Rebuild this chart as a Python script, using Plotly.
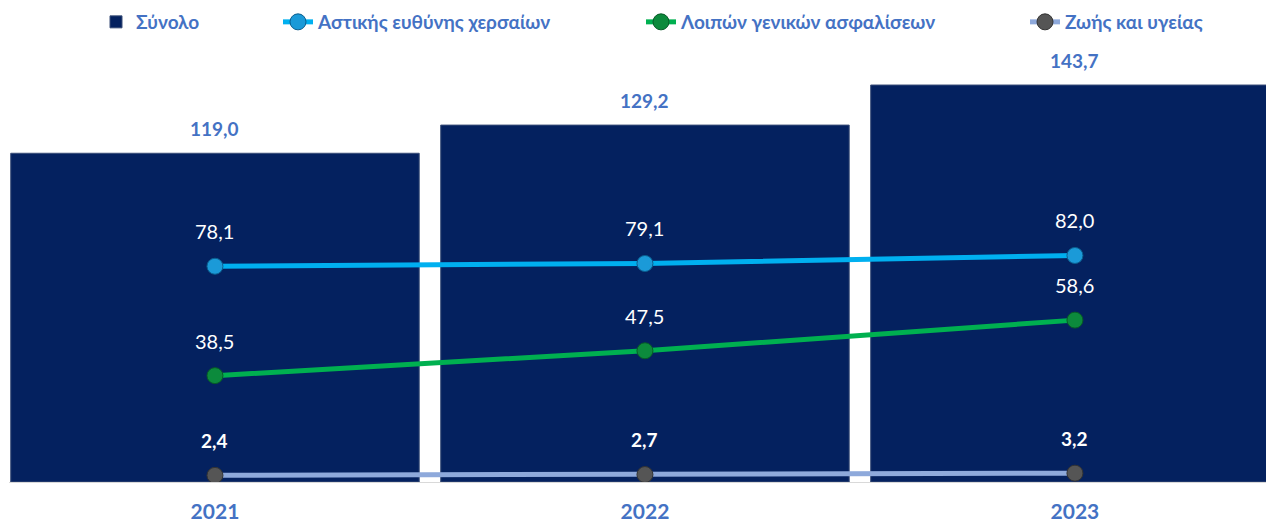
import plotly.graph_objects as go

years = ["2021", "2022", "2023"]
total = [119.0, 129.2, 143.7]
civil_land = [78.1, 79.1, 82.0]
other_general = [38.5, 47.5, 58.6]
life_health = [2.4, 2.7, 3.2]

FONT = "Lato"
LABEL_BLUE = "#4472C4"
W, H = 1266, 514
xs = list(range(len(years)))

def fmt(v):
    return f"{v:.1f}".replace(".", ",")

fig = go.Figure()
fig.add_trace(go.Bar(
    x=xs, y=total, name="Σύνολο", width=0.95, legend="legend",
    marker=dict(color="#04215F", line=dict(color="#3A4E78", width=1)),
    hoverinfo="skip",
))
fig.add_trace(go.Scatter(
    x=xs, y=civil_land, name="Αστικής ευθύνης χερσαίων", mode="lines+markers",
    legend="legend2",
    line=dict(color="#00B0F0", width=5),
    marker=dict(color="#1B9AD8", size=16, line=dict(color="#0B5E8E", width=1)),
    hoverinfo="skip",
))
fig.add_trace(go.Scatter(
    x=xs, y=other_general, name="Λοιπών γενικών ασφαλίσεων", mode="lines+markers",
    legend="legend3",
    line=dict(color="#00B050", width=5),
    marker=dict(color="#0C8A3C", size=16, line=dict(color="#075A27", width=1)),
    hoverinfo="skip",
))
fig.add_trace(go.Scatter(
    x=xs, y=life_health, name="Ζωής και υγείας", mode="lines+markers",
    legend="legend4",
    line=dict(color="#8EA9DB", width=5),
    marker=dict(color="#555555", size=16, line=dict(color="#333333", width=1)),
    hoverinfo="skip",
))

annotations = []
for x, v in zip(xs, total):
    annotations.append(dict(x=x, y=v, text=f"<b>{fmt(v)}</b>", showarrow=False,
                            yshift=25, font=dict(family=FONT, size=19, color=LABEL_BLUE)))
for x, v in zip(xs, civil_land):
    annotations.append(dict(x=x, y=v, text=fmt(v), showarrow=False,
                            yshift=35, font=dict(family=FONT, size=20, color="white")))
for x, v in zip(xs, other_general):
    annotations.append(dict(x=x, y=v, text=fmt(v), showarrow=False,
                            yshift=35, font=dict(family=FONT, size=20, color="white")))
for x, v in zip(xs, life_health):
    annotations.append(dict(x=x, y=v, text=f"<b>{fmt(v)}</b>", showarrow=False,
                            yshift=35, font=dict(family=FONT, size=19, color="white")))

legend_font = dict(family=FONT, size=19, color=LABEL_BLUE, weight="bold")
text_starts = [138, 320, 683, 1067]  # page px where legend text begins
def legend_at(page_x):
    return dict(orientation="h", xref="container", yref="container",
                x=(page_x - 42 - 8) / W, xanchor="left",
                y=1 - 14 / H, yanchor="middle",
                font=legend_font, bgcolor="rgba(0,0,0,0)")

fig.update_layout(
    width=W, height=H,
    margin=dict(l=1, r=6, t=32, b=40, autoexpand=False),
    paper_bgcolor="white", plot_bgcolor="white",
    font=dict(family=FONT),
    showlegend=True,
    legend=legend_at(text_starts[0]),
    legend2=legend_at(text_starts[1]),
    legend3=legend_at(text_starts[2]),
    legend4=legend_at(text_starts[3]),
    xaxis=dict(tickmode="array", tickvals=xs, ticktext=[f"<b>{y}</b>" for y in years],
               range=[-0.479, 2.449], showgrid=False, zeroline=False,
               showline=True, linecolor="#D9D9D9", linewidth=1,
               ticklabelstandoff=11, automargin=False,
               tickfont=dict(family=FONT, size=21, color=LABEL_BLUE), ticks=""),
    yaxis=dict(range=[0, 160], visible=False, showgrid=False, zeroline=False,
               automargin=False),
    annotations=annotations,
    bargap=0.05,
)

fig.write_html("out.html")
